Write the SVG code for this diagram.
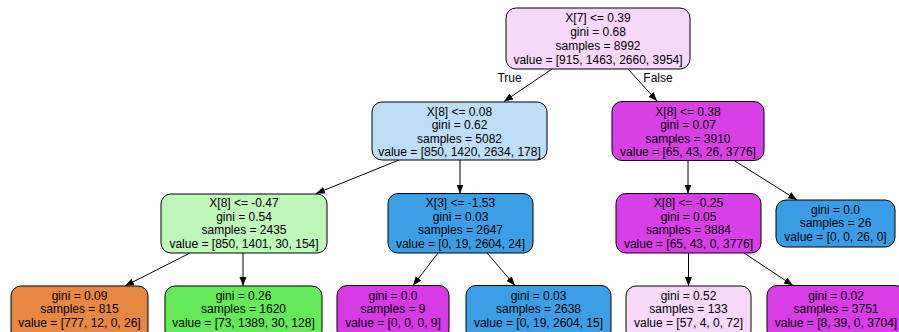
<svg xmlns="http://www.w3.org/2000/svg" width="899" height="332" viewBox="0 0 899 332">
<style>
.n rect{stroke:#000;stroke-width:1}
text{font-family:"Liberation Sans",Arial,Helvetica,sans-serif;font-size:12px;fill:#000;text-anchor:middle}
.e line{stroke:#000;stroke-width:1}
</style>
<defs>
<marker id="ah" markerUnits="userSpaceOnUse" markerWidth="10" markerHeight="8" refX="9" refY="3.5" orient="auto">
<path d="M0,0 L9,3.5 L0,7 z" fill="#000"/>
</marker>
</defs>
<rect width="899" height="332" fill="#fff"/>
<g class="e" id="edges">
<line x1="552" y1="69" x2="504" y2="101.5" marker-end="url(#ah)"/>
<line x1="628" y1="69" x2="657" y2="101" marker-end="url(#ah)"/>
<line x1="399" y1="160" x2="316" y2="193.5" marker-end="url(#ah)"/>
<line x1="460" y1="160" x2="460" y2="193.5" marker-end="url(#ah)"/>
<line x1="688" y1="161" x2="688" y2="193.5" marker-end="url(#ah)"/>
<line x1="735" y1="161" x2="797" y2="200" marker-end="url(#ah)"/>
<line x1="190" y1="253" x2="125" y2="286" marker-end="url(#ah)"/>
<line x1="243" y1="253" x2="243" y2="286" marker-end="url(#ah)"/>
<line x1="438" y1="253" x2="413" y2="285.5" marker-end="url(#ah)"/>
<line x1="487" y1="253" x2="515" y2="285.5" marker-end="url(#ah)"/>
<line x1="688.5" y1="253" x2="688.5" y2="286" marker-end="url(#ah)"/>
<line x1="744" y1="253" x2="793" y2="285.5" marker-end="url(#ah)"/>
<text x="509.5" y="82">True</text>
<text x="658" y="81.5">False</text>
</g>
<g class="n" id="n0">
<rect x="506" y="8" width="184" height="61" rx="10" fill="#f7d7fa"/>
<text x="598" y="21.7">X[7] &lt;= 0.39</text>
<text x="598" y="35.9">gini = 0.68</text>
<text x="598" y="50.1">samples = 8992</text>
<text x="598" y="64.3">value = [915, 1463, 2660, 3954]</text>
</g>
<g class="n" id="n1">
<rect x="372" y="102" width="175" height="58" rx="10" fill="#bddef6"/>
<text x="459.5" y="115.5">X[8] &lt;= 0.08</text>
<text x="459.5" y="129">gini = 0.62</text>
<text x="459.5" y="142.5">samples = 5082</text>
<text x="459.5" y="156">value = [850, 1420, 2634, 178]</text>
</g>
<g class="n" id="n8">
<rect x="612" y="101.5" width="152" height="59" rx="10" fill="#d840e6"/>
<text x="688" y="115.5">X[8] &lt;= 0.38</text>
<text x="688" y="129">gini = 0.07</text>
<text x="688" y="142.5">samples = 3910</text>
<text x="688" y="156">value = [65, 43, 26, 3776]</text>
</g>
<g class="n" id="n2">
<rect x="161" y="194" width="166" height="59" rx="10" fill="#bff6ba"/>
<text x="244" y="207">X[8] &lt;= -0.47</text>
<text x="244" y="220.5">gini = 0.54</text>
<text x="244" y="234">samples = 2435</text>
<text x="244" y="247.5">value = [850, 1401, 30, 154]</text>
</g>
<g class="n" id="n5">
<rect x="388" y="193.5" width="145" height="59.5" rx="10" fill="#3c9fe5"/>
<text x="460.5" y="207">X[3] &lt;= -1.53</text>
<text x="460.5" y="220.5">gini = 0.03</text>
<text x="460.5" y="234">samples = 2647</text>
<text x="460.5" y="247.5">value = [0, 19, 2604, 24]</text>
</g>
<g class="n" id="n9">
<rect x="616" y="193.5" width="145" height="59.5" rx="10" fill="#d83fe6"/>
<text x="688.5" y="207">X[8] &lt;= -0.25</text>
<text x="688.5" y="220.5">gini = 0.05</text>
<text x="688.5" y="234">samples = 3884</text>
<text x="688.5" y="247.5">value = [65, 43, 0, 3776]</text>
</g>
<g class="n" id="n12">
<rect x="776" y="200" width="119" height="47" rx="10" fill="#399de5"/>
<text x="835.5" y="213.5">gini = 0.0</text>
<text x="835.5" y="227">samples = 26</text>
<text x="835.5" y="240.5">value = [0, 0, 26, 0]</text>
</g>
<g class="n" id="n3">
<rect x="11" y="286" width="137" height="55" rx="10" fill="#e68742"/>
<text x="79.5" y="300">gini = 0.09</text>
<text x="79.5" y="313.3">samples = 815</text>
<text x="79.5" y="326.6">value = [777, 12, 0, 26]</text>
</g>
<g class="n" id="n4">
<rect x="165" y="286" width="157" height="55" rx="10" fill="#64e958"/>
<text x="243.5" y="300">gini = 0.26</text>
<text x="243.5" y="313.3">samples = 1620</text>
<text x="243.5" y="326.6">value = [73, 1389, 30, 128]</text>
</g>
<g class="n" id="n6">
<rect x="337" y="285.5" width="112" height="55" rx="10" fill="#d739e5"/>
<text x="393" y="300">gini = 0.0</text>
<text x="393" y="313.3">samples = 9</text>
<text x="393" y="326.6">value = [0, 0, 0, 9]</text>
</g>
<g class="n" id="n7">
<rect x="466" y="285.5" width="145" height="55" rx="10" fill="#3c9ee5"/>
<text x="538.5" y="300">gini = 0.03</text>
<text x="538.5" y="313.3">samples = 2638</text>
<text x="538.5" y="326.6">value = [0, 19, 2604, 15]</text>
</g>
<g class="n" id="n10">
<rect x="626" y="286" width="125" height="55" rx="10" fill="#f7d8fa"/>
<text x="688.5" y="300">gini = 0.52</text>
<text x="688.5" y="313.3">samples = 133</text>
<text x="688.5" y="326.6">value = [57, 4, 0, 72]</text>
</g>
<g class="n" id="n11">
<rect x="767" y="285.5" width="138" height="55" rx="10" fill="#d73ce5"/>
<text x="836" y="300">gini = 0.02</text>
<text x="836" y="313.3">samples = 3751</text>
<text x="836" y="326.6">value = [8, 39, 0, 3704]</text>
</g>
</svg>
